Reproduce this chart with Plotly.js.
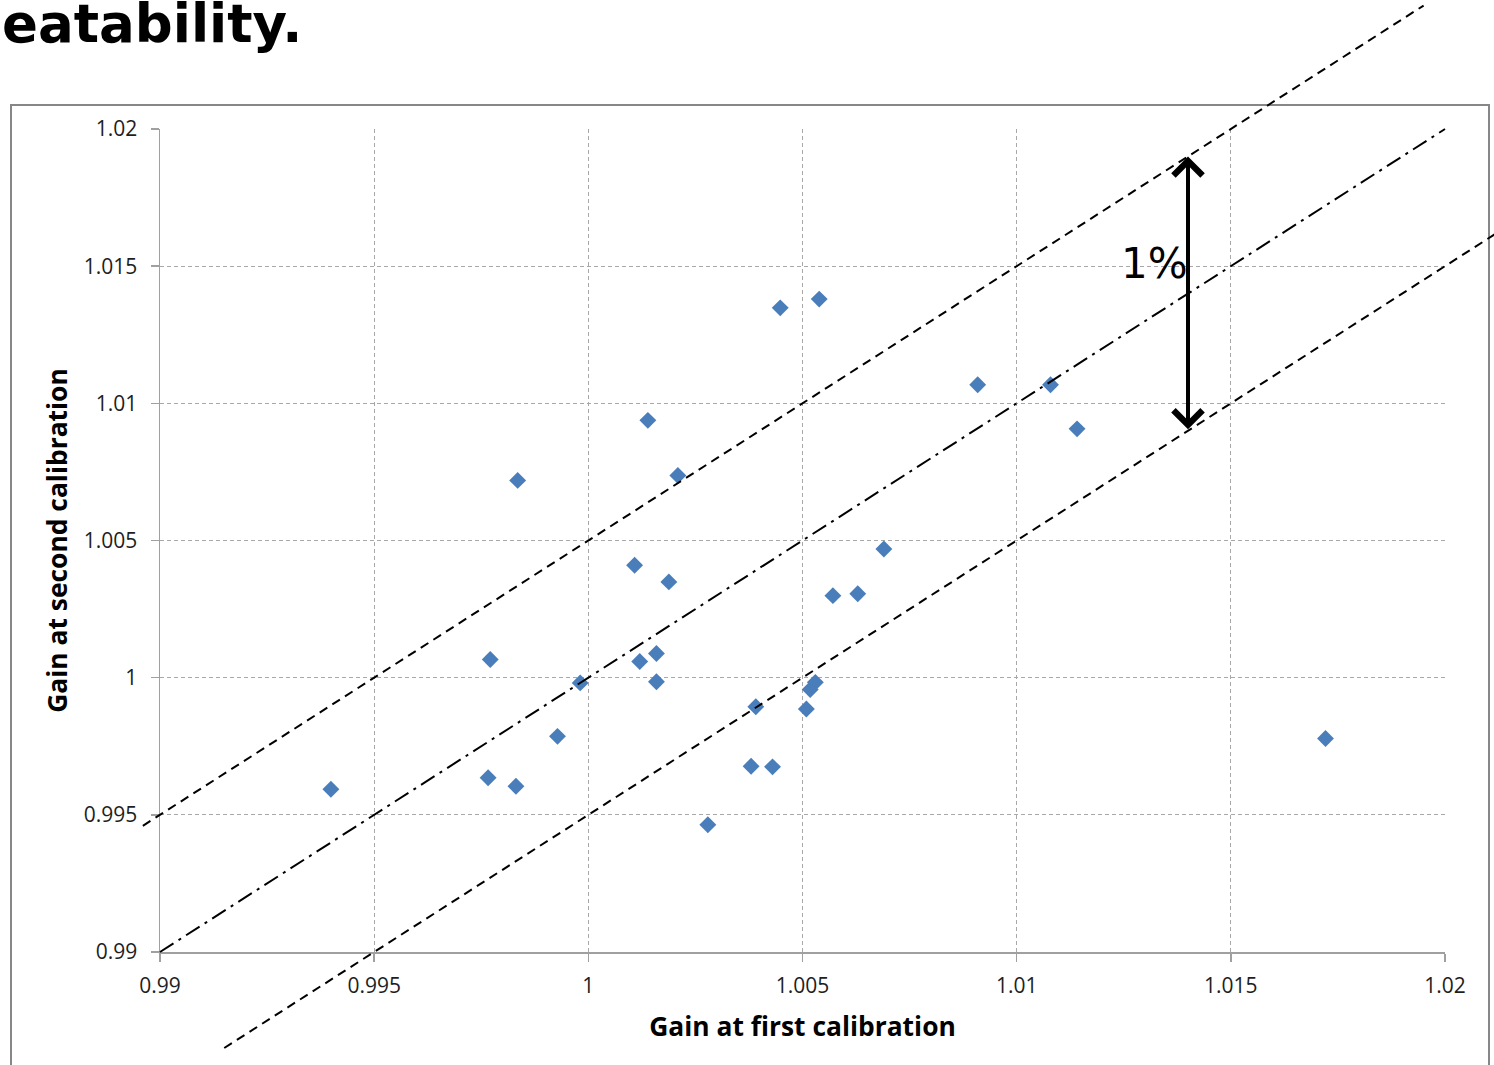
<!DOCTYPE html>
<html>
<head>
<meta charset="utf-8">
<script src="https://cdn.plot.ly/plotly-3.0.1.min.js"></script>
<style>
  html, body { margin: 0; padding: 0; background: #ffffff; }
  #chart { width: 1494px; height: 1065px; }
</style>
</head>
<body>
<div id="chart"></div>
<script>
// ---- Data ----
const gainFirst = [
  0.99399, 0.99766, 0.99831, 0.99771, 0.99835, 0.99928, 0.99981, 1.00108,
  1.00120, 1.00139, 1.00159, 1.00159, 1.00188, 1.00209, 1.00279, 1.00380,
  1.00430, 1.00391, 1.00448, 1.00509, 1.00518, 1.00530, 1.00539, 1.00571,
  1.00629, 1.00690, 1.00909, 1.01079, 1.01141, 1.01721
];
const gainSecond = [
  0.99593, 0.99635, 0.99604, 1.00066, 1.00719, 0.99786, 0.99981, 1.00410,
  1.00059, 1.00938, 1.00088, 0.99985, 1.00349, 1.00737, 0.99464, 0.99677,
  0.99675, 0.99894, 1.01348, 0.99886, 0.99957, 0.99983, 1.01380, 1.00299,
  1.00306, 1.00469, 1.01068, 1.01068, 1.00907, 0.99778
];
const tickValues = [0.99, 0.995, 1, 1.005, 1.01, 1.015, 1.02];
const tickLabels = ["0.99", "0.995", "1", "1.005", "1.01", "1.015", "1.02"];

// reference lines y = x + offset (upper dashed, identity dash-dot, lower dashed)
const refOffsets = [0.005, 0, -0.005];
const refStartX  = [0.9896, 0.99, 0.9915];
const refEndX    = [1.0195, 1.02, 1.0215];

// 1% band arrow: between y = x - 0.005 and y = x + 0.005 at this x
const arrowX = 1.014;
const bandLabel = "1%";

const xRange = [0.99, 1.02];
const yRange = [0.99, 1.02];

// ---- Layout geometry ----
const W = 1494, H = 1065;
const M = { l: 160, r: 49, t: 129, b: 113 };
const plotW = W - M.l - M.r, plotH = H - M.t - M.b;
const pxToPaperX = p => (p - M.l) / plotW;
const pxToPaperY = p => (H - M.b - p) / plotH;
const dataToPaperX = x => (x - xRange[0]) / (xRange[1] - xRange[0]);
const dataToPaperY = y => (y - yRange[0]) / (yRange[1] - yRange[0]);

const lineStyles = [
  { color: "#000000", width: 2, dash: "9px,6px" },
  { color: "#000000", width: 2, dash: "16px,6px,3px,6px" },
  { color: "#000000", width: 2, dash: "9px,6px" }
];

const shapes = [
  // outer chart frame
  { type: "rect", xref: "paper", yref: "paper", layer: "below",
    x0: pxToPaperX(11), x1: pxToPaperX(1489),
    y0: pxToPaperY(1080), y1: pxToPaperY(105),
    line: { color: "#878787", width: 2 }, fillcolor: "rgba(0,0,0,0)" }
];
refOffsets.forEach((off, i) => {
  shapes.push({
    type: "line", xref: "paper", yref: "paper", layer: "above",
    x0: dataToPaperX(refStartX[i]), y0: dataToPaperY(refStartX[i] + off),
    x1: dataToPaperX(refEndX[i]),   y1: dataToPaperY(refEndX[i] + off),
    line: lineStyles[i]
  });
});

const traces = [{
  type: "scatter",
  mode: "markers",
  x: gainFirst,
  y: gainSecond,
  marker: { symbol: "diamond", size: 13, color: "#4A7EBB", line: { width: 0 } },
  hoverinfo: "x+y",
  showlegend: false
}];

const tickFont = { family: "Open Sans, sans-serif", size: 21, color: "#1e1e1e" };
const titleFont = { family: "Open Sans, sans-serif", size: 26.4, color: "#000000", weight: "bold" };

const axisCommon = {
  tickmode: "array",
  tickvals: tickValues,
  ticktext: tickLabels,
  showgrid: true,
  gridcolor: "#a8a8a8",
  gridwidth: 1,
  griddash: "4px,3px",
  zeroline: false,
  showline: true,
  linecolor: "#a0a0a0",
  linewidth: 1.5,
  ticks: "outside",
  ticklen: 8,
  tickcolor: "#a0a0a0",
  tickwidth: 1.5,
  tickfont: tickFont,
  fixedrange: true
};

const layout = {
  width: W, height: H,
  margin: M,
  paper_bgcolor: "#ffffff",
  plot_bgcolor: "#ffffff",
  showlegend: false,
  xaxis: Object.assign({}, axisCommon, {
    range: xRange,
    ticklabelstandoff: 6,
    title: { text: "Gain at first calibration", font: titleFont, standoff: 20 }
  }),
  yaxis: Object.assign({}, axisCommon, {
    range: yRange,
    ticklabelstandoff: 9,
    title: { text: "Gain at second calibration", font: titleFont, standoff: 8 }
  }),
  shapes: shapes,
  annotations: [
    { text: "eatability.", xref: "paper", yref: "paper",
      x: pxToPaperX(0), y: pxToPaperY(23), xanchor: "left", yanchor: "middle",
      showarrow: false,
      font: { family: "DejaVu Sans, sans-serif", size: 53, color: "#000000", weight: "bold" } },
    { text: bandLabel, xref: "paper", yref: "paper",
      x: pxToPaperX(1154), y: pxToPaperY(264), xanchor: "center", yanchor: "middle",
      showarrow: false,
      font: { family: "DejaVu Sans, sans-serif", size: 42, color: "#000000" } },
    { text: "", xref: "x", yref: "y", axref: "x", ayref: "y",
      x: arrowX, y: arrowX + refOffsets[0],
      ax: arrowX, ay: arrowX + refOffsets[2],
      showarrow: true, arrowside: "end+start",
      arrowhead: 4, startarrowhead: 4,
      arrowsize: 1.4, startarrowsize: 1.4,
      arrowwidth: 4, arrowcolor: "#000000",
      standoff: 0, startstandoff: 0 }
  ]
};

Plotly.newPlot("chart", traces, layout, { displayModeBar: false, staticPlot: true });
</script>
</body>
</html>
